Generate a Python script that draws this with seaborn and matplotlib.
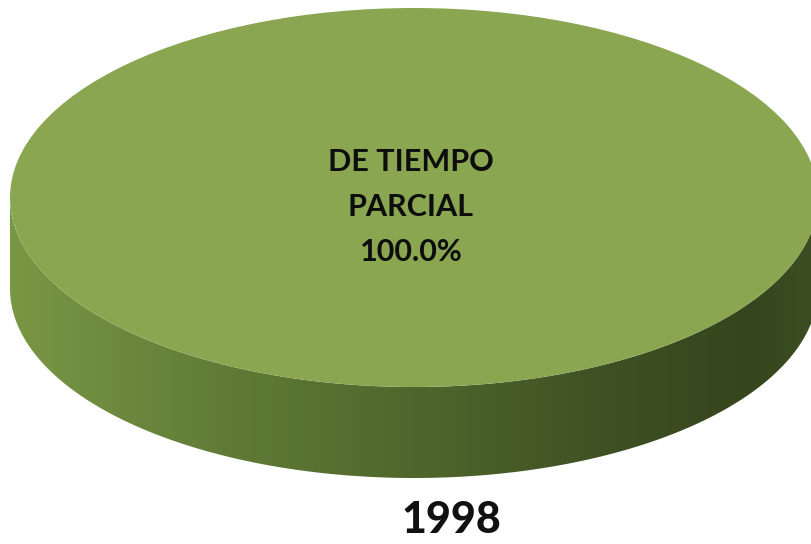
import numpy as np
import matplotlib
matplotlib.use("Agg")
import matplotlib.pyplot as plt
from matplotlib.patches import Polygon
from matplotlib.colors import LinearSegmentedColormap
import seaborn as sns

# ---- data ----
categories = ["DE TIEMPO\nPARCIAL"]
values = [100.0]
title = "1998"

sns.set_theme(style="white")
plt.rcParams["font.family"] = ["Lato", "DejaVu Sans"]

W, H = 812, 544
fig = plt.figure(figsize=(W / 100, H / 100), dpi=100)
ax = fig.add_axes([0, 0, 1, 1])

# pixel geometry of the 3D disc
cx, cy = 414.0, 197.5    # top ellipse centre (px)
rx, ry = 404.0, 189.5    # radii (px)
depth = 91.0             # side depth (px)

d = depth / ry
top_color = "#8AA651"

# side (gradient) of the cylinder
t = np.linspace(np.pi, 2 * np.pi, 240)
lower_bottom = np.column_stack([np.cos(t), np.sin(t) - d])
upper_top = np.column_stack([np.cos(t[::-1]), np.sin(t[::-1])])
side = np.vstack([[-1, 0], lower_bottom, [1, 0], upper_top])
side_poly = Polygon(side, closed=True, facecolor="none", edgecolor="none")
ax.add_patch(side_poly)
cmap = LinearSegmentedColormap.from_list(
    "side",
    [(0.0, "#7A9745"), (0.25, "#627D37"), (0.5, "#4F672C"),
     (0.75, "#3E5023"), (0.92, "#35451D"), (1.0, "#3D4F22")])
grad = np.linspace(0, 1, 512).reshape(1, -1)
im = ax.imshow(grad, cmap=cmap, aspect="auto",
               extent=(-1, 1, -1 - d, 0.0), zorder=1, interpolation="bilinear")
im.set_clip_path(side_poly)

# top face: the pie itself
wedges, texts, autotexts = ax.pie(
    values, labels=None, colors=[top_color], startangle=90,
    radius=1.0, center=(0, 0), frame=True,
    autopct=lambda p: f"{p:.1f}%", pctdistance=0.0,
    wedgeprops=dict(linewidth=0, zorder=2), textprops=dict(zorder=3))
for a in autotexts:
    a.set_visible(False)

pct = values[0] / sum(values) * 100
label = f"{categories[0]}\n{pct:.1f}%"
ax.text((411 - cx) / rx, (cy - 207) / ry, label, ha="center", va="center",
        fontsize=22, fontweight="bold", color="#0D0D0D",
        linespacing=1.72, zorder=4)

ax.set_aspect("auto")
ax.set_xlim((0 - cx) / rx, (W - cx) / rx)
ax.set_ylim((cy - H) / ry, (cy - 0) / ry)
ax.axis("off")

ax.text((451 - cx) / rx, (cy - 520) / ry, title, ha="center", va="center",
        fontsize=31, fontweight="black", color="#111111", zorder=4)

fig.savefig("out.png", dpi=100, facecolor="white")
